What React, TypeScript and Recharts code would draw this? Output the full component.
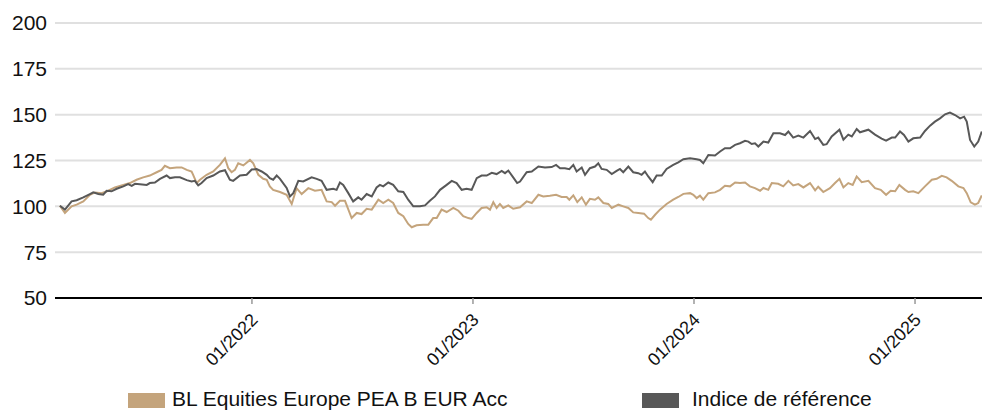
import React from "react";
import { LineChart, Line, XAxis, YAxis, CartesianGrid, Legend } from "recharts";

// [decimal year, value]
const fundPoints: [number, number][] = [
  [2021.131, 100.3], [2021.154, 96.4], [2021.184, 100], [2021.207, 100.9], [2021.237, 102.7],
  [2021.267, 106.3], [2021.29, 107.6], [2021.32, 107.2], [2021.35, 108.5], [2021.38, 110.3],
  [2021.418, 111.7], [2021.448, 112.7], [2021.478, 114.5], [2021.508, 115.8], [2021.538, 116.8],
  [2021.569, 118.6], [2021.591, 119.9], [2021.606, 122.1], [2021.629, 120.8], [2021.659, 121.2],
  [2021.682, 121.2], [2021.705, 119.9], [2021.727, 119.0], [2021.734, 117.2], [2021.75, 112.7],
  [2021.765, 114.5], [2021.795, 117.2], [2021.825, 119.0], [2021.855, 122.6], [2021.878, 126.2],
  [2021.893, 120.8], [2021.908, 118.6], [2021.923, 119.9], [2021.938, 123.5], [2021.961, 122.3],
  [2021.991, 125.3], [2022.006, 123.5], [2022.029, 117.2], [2022.051, 115.0], [2022.067, 114.5],
  [2022.081, 110.9], [2022.096, 109.0], [2022.127, 107.8], [2022.157, 106.3], [2022.18, 101.3],
  [2022.202, 109.9], [2022.225, 106.7], [2022.255, 109.9], [2022.285, 108.5], [2022.315, 109],
  [2022.338, 102.7], [2022.361, 102.3], [2022.376, 100.3], [2022.398, 103], [2022.421, 103],
  [2022.451, 93.6], [2022.474, 96.4], [2022.496, 95.8], [2022.519, 98.7], [2022.542, 98.2],
  [2022.572, 103.6], [2022.594, 101.8], [2022.617, 103.6], [2022.639, 101.8], [2022.662, 96.4],
  [2022.685, 94.6], [2022.707, 90.4], [2022.723, 88.6], [2022.745, 89.7], [2022.775, 90],
  [2022.798, 90], [2022.82, 93.6], [2022.836, 93.6], [2022.858, 98.2], [2022.881, 96.9],
  [2022.911, 99.1], [2022.934, 97.6], [2022.956, 94.6], [2022.979, 93.6], [2022.994, 93.1],
  [2023.017, 96.4], [2023.039, 99.1], [2023.062, 99.5], [2023.077, 98.2], [2023.092, 102.3],
  [2023.107, 99.1], [2023.122, 101.3], [2023.137, 99.1], [2023.16, 100.5], [2023.182, 98.7],
  [2023.213, 99.5], [2023.243, 102.7], [2023.266, 101.8], [2023.296, 106.3], [2023.318, 105.4],
  [2023.348, 105.8], [2023.376, 106.3], [2023.401, 105.1], [2023.424, 105.1], [2023.436, 103.6],
  [2023.454, 106], [2023.472, 102.3], [2023.492, 104.9], [2023.511, 100.9], [2023.529, 104.1],
  [2023.552, 103.6], [2023.567, 104.9], [2023.59, 101.8], [2023.612, 101.3], [2023.628, 99.1],
  [2023.658, 100.9], [2023.68, 100], [2023.703, 99.1], [2023.725, 96.7], [2023.748, 96.4],
  [2023.774, 96], [2023.793, 93.6], [2023.805, 92.7], [2023.824, 95.4], [2023.846, 98.2],
  [2023.876, 101.3], [2023.906, 103.6], [2023.929, 105.1], [2023.952, 106.8], [2023.982, 107.2],
  [2023.997, 106.3], [2024.012, 104.5], [2024.027, 105.8], [2024.042, 103.6], [2024.065, 107.2],
  [2024.095, 107.6], [2024.118, 109], [2024.14, 111.2], [2024.163, 110.9], [2024.186, 113],
  [2024.208, 112.7], [2024.231, 113], [2024.253, 110.9], [2024.276, 109.9], [2024.299, 108.5],
  [2024.314, 110], [2024.336, 109], [2024.352, 112.7], [2024.381, 112.3], [2024.404, 110.9],
  [2024.427, 113.9], [2024.449, 111.4], [2024.472, 112.1], [2024.495, 110.3], [2024.525, 112.7],
  [2024.548, 108.7], [2024.562, 110.7], [2024.585, 107.8], [2024.615, 109.9], [2024.638, 112.7],
  [2024.658, 115], [2024.676, 110.3], [2024.698, 112.7], [2024.718, 111.7], [2024.736, 116.3],
  [2024.759, 113.2], [2024.789, 113.9], [2024.819, 109.9], [2024.845, 109], [2024.869, 106.3],
  [2024.89, 108.5], [2024.91, 108.2], [2024.929, 111.7], [2024.955, 109], [2024.97, 107.8],
  [2024.992, 108.2], [2025.015, 107.2], [2025.045, 110.9], [2025.076, 114.5], [2025.098, 115],
  [2025.121, 116.6], [2025.143, 115.8], [2025.166, 113.9], [2025.196, 110.9], [2025.219, 110],
  [2025.234, 107.2], [2025.252, 102.2], [2025.271, 100.9], [2025.286, 101.8], [2025.302, 106],
];

const indexPoints: [number, number][] = [
  [2021.131, 100.3], [2021.154, 98.2], [2021.184, 102.7], [2021.207, 103.3], [2021.237, 104.9],
  [2021.267, 106.7], [2021.282, 107.6], [2021.305, 106.7], [2021.327, 106.3], [2021.343, 108.5],
  [2021.365, 108.2], [2021.388, 109.6], [2021.418, 110.9], [2021.44, 112.1], [2021.456, 111.2],
  [2021.471, 112.3], [2021.493, 112.1], [2021.524, 111.7], [2021.538, 112.7], [2021.561, 113.0],
  [2021.584, 115.0], [2021.614, 116.8], [2021.629, 115.4], [2021.652, 115.9], [2021.674, 115.8],
  [2021.705, 114.3], [2021.727, 113.6], [2021.742, 113.9], [2021.757, 111.4], [2021.772, 112.7],
  [2021.795, 115.4], [2021.825, 116.8], [2021.855, 119.0], [2021.878, 119.7], [2021.9, 114.5],
  [2021.915, 113.9], [2021.946, 116.8], [2021.976, 117.2], [2021.999, 120.1], [2022.021, 120.3],
  [2022.044, 119.0], [2022.067, 117.2], [2022.081, 115.4], [2022.096, 114.5], [2022.112, 116.8],
  [2022.127, 115], [2022.157, 110], [2022.172, 105.4], [2022.187, 107.2], [2022.21, 113.9],
  [2022.232, 113.6], [2022.27, 115.8], [2022.293, 115], [2022.315, 113.9], [2022.338, 109],
  [2022.368, 109.6], [2022.383, 109], [2022.398, 113], [2022.413, 111.7], [2022.436, 107.2],
  [2022.458, 102.7], [2022.481, 104.9], [2022.496, 103.6], [2022.519, 106.7], [2022.542, 105.4],
  [2022.564, 110.3], [2022.579, 111.7], [2022.594, 110.9], [2022.617, 113], [2022.639, 111.7],
  [2022.662, 108.2], [2022.685, 107.8], [2022.707, 103.6], [2022.73, 100], [2022.76, 100],
  [2022.783, 100.5], [2022.805, 103], [2022.828, 105.4], [2022.851, 109], [2022.881, 111.7],
  [2022.904, 113.9], [2022.926, 112.7], [2022.949, 109], [2022.971, 109.6], [2022.994, 109],
  [2023.017, 115.4], [2023.039, 116.8], [2023.062, 116.8], [2023.085, 118.3], [2023.107, 117.6],
  [2023.13, 119.3], [2023.145, 118.1], [2023.16, 119.5], [2023.182, 115.8], [2023.2, 112.7],
  [2023.213, 113.5], [2023.243, 118.6], [2023.266, 119], [2023.296, 121.7], [2023.326, 121.2],
  [2023.356, 121.4], [2023.376, 122.6], [2023.394, 120.8], [2023.416, 120.8], [2023.436, 120.3],
  [2023.454, 122.6], [2023.469, 119], [2023.492, 121.2], [2023.507, 117.2], [2023.529, 120.8],
  [2023.552, 121.7], [2023.567, 123.5], [2023.582, 120.4], [2023.605, 119.9], [2023.628, 117.6],
  [2023.65, 119.3], [2023.665, 120.4], [2023.68, 118.6], [2023.703, 121.7], [2023.725, 118.6],
  [2023.748, 118.1], [2023.763, 117.2], [2023.778, 119], [2023.793, 116.3], [2023.813, 113.2],
  [2023.831, 116.8], [2023.854, 116.8], [2023.876, 120.4], [2023.906, 122.6], [2023.929, 124],
  [2023.952, 125.7], [2023.982, 126.2], [2024.012, 125.7], [2024.027, 125.3], [2024.042, 123.5],
  [2024.065, 128], [2024.095, 127.7], [2024.118, 129.9], [2024.14, 131.7], [2024.163, 131.7],
  [2024.186, 133.5], [2024.208, 134.4], [2024.231, 135.7], [2024.246, 135.3], [2024.261, 134],
  [2024.276, 134.4], [2024.291, 132.6], [2024.314, 135.3], [2024.336, 134.8], [2024.359, 139.8],
  [2024.389, 139.8], [2024.412, 138.9], [2024.427, 140.8], [2024.449, 137.5], [2024.472, 138.6],
  [2024.495, 137.5], [2024.525, 141.1], [2024.548, 136.7], [2024.562, 137.5], [2024.585, 133.5],
  [2024.6, 133.9], [2024.623, 138.1], [2024.658, 141.8], [2024.676, 136.4], [2024.698, 139.1],
  [2024.714, 138.1], [2024.736, 142.2], [2024.751, 140.4], [2024.789, 141.8], [2024.819, 139.1],
  [2024.849, 136.9], [2024.869, 135.8], [2024.895, 137.5], [2024.91, 137.5], [2024.932, 140.8],
  [2024.95, 138.9], [2024.97, 135.3], [2024.992, 137.1], [2025.023, 137.5], [2025.045, 141.1],
  [2025.068, 144], [2025.09, 146.2], [2025.113, 148], [2025.136, 150.2], [2025.158, 151.1],
  [2025.181, 149.8], [2025.204, 148], [2025.222, 148.9], [2025.234, 146.2], [2025.249, 136.2],
  [2025.268, 132.6], [2025.286, 135.3], [2025.302, 140.8],
];

const yearTicks = [2022, 2023, 2024, 2025];
const valueTicks = [50, 75, 100, 125, 150, 175, 200];
const seriesNames = ["BL Equities Europe PEA B EUR Acc", "Indice de référence"];

const FUND_COLOR = "#c4a47c";
const INDEX_COLOR = "#585858";
const FONT = "'Liberation Sans', Arial, sans-serif";

const fundData = fundPoints.map(([t, v]) => ({ t, v }));
const indexData = indexPoints.map(([t, v]) => ({ t, v }));

const DateTick = (props: any) => {
  const { x, y, payload } = props;
  const ax = x + 7;
  const ay = y + 15;
  return (
    <text
      x={ax}
      y={ay}
      transform={`rotate(-45 ${ax} ${ay})`}
      textAnchor="end"
      fontSize={18}
      fontFamily={FONT}
      fill="#111"
    >
      {`01/${payload.value}`}
    </text>
  );
};

// legend item offsets: square left, text left
const legendSlots = [
  { left: 128, text: 44 },
  { left: 642, text: 50 },
];

const LegendContent = (props: any) => {
  const items = props.payload || [];
  return (
    <div style={{ position: "relative", width: 982, height: 30, fontFamily: FONT }}>
      {items.map((item: any, i: number) => (
        <div key={item.value} style={{ position: "absolute", left: legendSlots[i].left, top: 0 }}>
          <div
            style={{
              position: "absolute",
              left: 0,
              top: 13,
              width: 37,
              height: 15,
              background: item.color,
            }}
          />
          <div
            style={{
              position: "absolute",
              left: legendSlots[i].text,
              top: 8,
              fontSize: 21,
              lineHeight: "21px",
              whiteSpace: "nowrap",
              color: "#111",
            }}
          >
            {item.value}
          </div>
        </div>
      ))}
    </div>
  );
};

export default function App() {
  return (
    <div style={{ position: "absolute", left: 0, top: 0, width: 982, height: 410, background: "#fff" }}>
      <LineChart width={982} height={410} margin={{ top: 23, right: 0, bottom: 0, left: 0 }}>
        <CartesianGrid vertical={false} stroke="#e0e0e0" strokeWidth={2} />
        <XAxis
          dataKey="t"
          type="number"
          domain={[2021.109, 2025.303]}
          ticks={yearTicks}
          allowDataOverflow
          height={82}
          tickSize={6}
          tickMargin={2}
          axisLine={{ stroke: "#000", strokeWidth: 2 }}
          tickLine={{ stroke: "#999", strokeWidth: 1.5 }}
          tick={<DateTick />}
          interval={0}
        />
        <YAxis
          type="number"
          domain={[50, 200]}
          ticks={valueTicks}
          width={55}
          axisLine={false}
          tickLine={false}
          tickSize={0}
          tickMargin={8}
          tick={{ fontSize: 21, fill: "#111", fontFamily: FONT }}
        />
        <Legend verticalAlign="bottom" height={30} content={<LegendContent />} />
        <Line
          data={fundData}
          dataKey="v"
          name={seriesNames[0]}
          type="linear"
          stroke={FUND_COLOR}
          strokeWidth={2}
          dot={false}
          isAnimationActive={false}
        />
        <Line
          data={indexData}
          dataKey="v"
          name={seriesNames[1]}
          type="linear"
          stroke={INDEX_COLOR}
          strokeWidth={2}
          dot={false}
          isAnimationActive={false}
        />
      </LineChart>
    </div>
  );
}
